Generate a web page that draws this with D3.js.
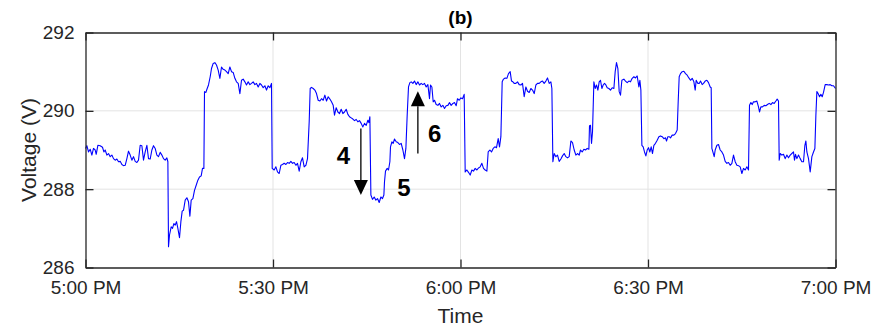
<!DOCTYPE html>
<html><head><meta charset="utf-8">
<script src="https://cdn.jsdelivr.net/npm/d3@7"></script>
<style>
html,body{margin:0;padding:0;background:#fff;}
svg{display:block;font-family:"Liberation Sans",Arial,Helvetica,sans-serif;}
</style></head>
<body><svg id="c" width="875" height="328"></svg>
<script>
// minutes after 5:00 PM
const timeMin = [
0,0.22,0.48,0.75,1.02,1.28,1.55,1.71,1.98,2.35,2.72,2.94,3.15,3.42,3.68,3.95,4.22,4.48,4.75,5.02,5.28,5.55,5.82,6.08,6.35,6.62,6.88,7.15,7.42,7.68,7.95,8.22,8.48,8.75,9.02,9.28,9.55,9.82,10.08,10.35,10.62,10.88,11.15,11.42,11.68,11.95,12.22,12.48,12.75,13.02,13.18,
13.28,13.44,13.71,13.92,14.14,14.35,14.56,14.78,15.04,15.26,15.47,15.68,15.95,16.22,16.48,16.70,16.91,17.18,17.44,17.71,17.98,18.24,18.51,18.72,18.94,
19.04,19.26,19.47,19.68,19.95,20.16,20.43,20.70,20.96,21.23,21.50,21.76,22.03,22.30,22.56,22.83,23.10,23.36,23.63,23.90,24.16,24.43,24.70,24.96,25.23,25.50,25.76,26.03,26.30,26.56,26.83,27.10,27.36,27.63,27.90,28.16,28.43,28.70,28.96,29.23,29.50,29.76,
29.87,30.19,30.46,30.72,30.99,31.26,31.52,31.79,32.06,32.32,32.59,32.86,33.12,33.39,33.66,33.92,34.19,34.46,34.72,34.99,35.26,35.52,
35.79,35.95,36.16,36.43,36.70,36.96,37.23,37.50,37.76,38.03,38.30,38.56,38.83,39.10,39.36,39.63,39.84,40.11,40.38,40.64,40.91,41.18,41.44,41.71,41.98,42.24,42.51,42.78,43.04,43.31,43.58,43.84,44.11,44.38,44.64,44.91,45.18,45.34,45.50,
45.66,45.92,46.19,46.46,46.72,46.99,47.26,47.52,47.74,47.84,48.00,48.27,48.48,48.70,48.80,49.02,49.23,49.44,49.71,49.98,50.24,50.51,50.78,51.04,51.26,
51.47,51.68,51.90,52.11,52.38,52.64,52.91,53.18,53.44,53.71,53.98,54.24,54.51,54.78,55.04,55.20,55.42,55.63,55.84,56.11,56.38,56.64,56.91,57.18,57.44,57.71,57.98,58.24,58.51,58.78,59.04,59.31,59.52,59.79,60.06,60.32,60.59,
60.75,61.02,61.28,61.55,61.82,62.08,62.35,62.62,62.88,63.15,63.42,63.68,63.95,64.22,64.43,64.70,64.96,65.23,65.50,65.76,66.03,66.24,66.46,
66.67,66.88,67.15,67.42,67.68,67.95,68.16,68.38,68.59,68.86,69.12,69.39,69.66,69.92,70.19,70.46,70.72,70.99,71.26,71.52,71.79,72.06,72.32,72.59,72.86,73.12,73.39,73.66,73.92,74.19,74.46,74.62,
74.78,74.99,75.26,75.52,75.79,76.06,76.32,76.59,76.86,77.12,77.39,77.66,77.92,78.19,78.46,78.72,78.99,79.20,79.47,79.74,80.00,80.27,80.54,80.64,80.80,80.96,81.12,
81.34,81.55,81.76,81.98,82.19,82.40,82.62,82.83,83.04,83.26,83.47,83.74,84.00,84.27,84.54,84.75,84.96,85.18,85.39,85.60,85.82,86.14,86.40,86.67,86.94,87.20,87.47,87.74,88.00,88.27,88.54,88.70,88.86,
89.02,89.23,89.44,89.66,89.87,90.08,90.30,90.51,90.72,90.94,91.20,91.47,91.74,92.00,92.27,92.54,92.80,92.96,93.18,93.39,93.60,93.87,94.14,94.40,94.67,
94.83,94.99,95.20,95.47,95.74,96.00,96.27,96.54,96.80,97.07,97.34,97.55,97.71,97.98,98.19,98.40,98.67,98.88,99.15,99.42,99.68,99.95,100.11,
100.22,100.38,100.59,100.75,101.02,101.28,101.55,101.82,102.08,102.35,102.62,102.88,103.15,103.42,103.68,103.95,104.22,104.48,104.75,105.02,105.28,105.55,105.82,106.08,
106.24,106.46,106.67,106.88,107.15,107.42,107.68,107.84,108.06,108.32,108.59,108.86,109.12,109.39,109.66,109.92,110.19,110.46,110.67,110.88,
110.99,111.15,111.42,111.68,111.95,112.22,112.48,112.75,113.02,113.28,113.44,113.60,113.82,114.08,114.35,114.62,114.88,115.10,115.26,115.42,115.68,115.95,116.22,116.48,116.70,
116.86,117.02,117.23,117.44,117.66,117.87,118.08,118.35,118.62,118.88,119.15,119.42,119.68,120.00
];
const voltage = [
289.04,289.11,288.95,289.02,288.87,289.04,289.00,288.89,289.12,289.11,289.07,288.95,289.00,288.87,288.91,288.83,288.87,288.78,288.74,288.77,288.70,288.71,288.63,288.60,288.61,288.78,288.97,288.87,288.74,288.83,288.71,288.68,288.74,289.12,289.11,288.74,288.95,289.12,288.78,288.77,289.00,289.11,289.04,288.87,288.83,288.94,288.87,288.78,288.74,288.80,288.70,
286.53,286.83,287.04,287.00,287.12,287.08,287.17,287.00,286.76,287.17,287.44,287.46,287.72,287.78,287.68,287.31,287.72,287.76,287.97,288.10,288.23,288.31,288.34,288.53,288.53,
290.49,290.47,290.57,290.66,290.87,291.08,291.21,291.23,291.17,291.04,290.83,291.12,291.06,291.04,291.00,290.95,291.12,291.00,290.98,290.83,290.74,290.70,290.44,290.78,290.81,290.74,290.66,290.74,290.67,290.70,290.74,290.67,290.70,290.61,290.70,290.66,290.59,290.64,290.53,290.64,290.59,290.70,
288.53,288.49,288.57,288.44,288.40,288.61,288.63,288.66,288.63,288.68,288.66,288.71,288.66,288.68,288.61,288.66,288.46,288.70,288.80,288.57,288.61,288.78,
289.72,290.57,290.60,290.57,290.53,290.44,290.27,290.25,290.31,290.27,290.40,290.25,290.36,290.30,290.23,290.14,289.89,290.08,289.97,289.93,290.04,289.93,289.97,290.04,289.91,289.85,289.82,289.79,289.75,289.78,289.72,289.75,289.68,289.59,289.68,289.63,289.76,289.70,289.85,
287.85,287.74,287.80,287.72,287.76,287.66,287.80,287.76,287.85,288.19,288.46,288.53,288.49,288.70,289.08,289.21,289.17,289.28,289.21,289.19,289.14,289.17,289.00,288.78,289.04,
289.89,290.61,290.72,290.74,290.70,290.76,290.67,290.74,290.66,290.70,290.67,290.70,290.61,290.67,290.31,290.66,290.61,290.23,290.27,290.16,290.14,290.19,290.10,290.14,290.06,290.13,290.14,290.21,290.14,290.19,290.21,290.13,290.31,290.27,290.33,290.31,290.42,
288.44,288.49,288.43,288.36,288.49,288.46,288.53,288.49,288.54,288.57,288.66,288.53,288.49,288.46,288.95,289.00,288.95,289.04,289.08,289.06,289.29,289.08,289.34,
290.74,290.81,290.84,290.83,290.95,291.00,290.76,290.74,290.70,290.70,290.74,290.67,290.66,290.70,290.36,290.61,290.50,290.47,290.57,290.53,290.44,290.66,290.70,290.70,290.74,290.76,290.70,290.76,290.84,290.70,290.74,290.57,
288.70,288.91,288.83,288.87,288.71,288.77,288.85,288.91,288.83,288.80,288.83,289.23,289.19,289.00,288.87,288.91,288.87,289.00,288.95,289.02,289.00,289.04,289.02,289.62,289.63,289.17,289.46,
290.74,290.57,290.66,290.53,290.74,290.78,290.57,290.66,290.70,290.66,290.59,290.57,290.53,290.59,290.57,291.00,291.23,291.08,290.49,290.40,290.78,290.81,290.76,290.72,290.76,290.74,290.83,290.87,290.84,290.89,290.61,290.78,290.53,
289.12,289.08,288.95,288.85,289.00,289.06,288.95,289.08,288.91,289.12,289.17,289.25,289.34,289.36,289.34,289.29,289.31,289.23,289.34,289.34,289.31,289.38,289.38,289.42,289.51,
290.23,290.87,290.95,291.00,291.01,290.95,290.91,290.84,290.78,290.83,290.74,290.53,290.78,290.70,290.70,290.76,290.67,290.70,290.76,290.78,290.72,290.61,290.59,
289.04,288.95,288.83,289.00,289.12,289.14,289.00,288.95,288.87,288.71,288.66,288.68,288.61,288.66,288.87,288.70,288.61,288.60,288.57,288.40,288.53,288.49,288.57,288.49,
290.14,290.21,290.16,290.23,290.23,290.25,290.10,289.97,290.10,290.10,290.14,290.13,290.16,290.19,290.16,290.21,290.19,290.25,290.30,290.25,
288.74,288.91,288.87,288.89,288.78,288.87,288.80,288.87,288.91,288.95,288.74,288.89,288.78,288.87,288.78,288.70,288.70,289.12,289.23,288.95,288.78,288.44,288.83,288.95,289.04,
289.89,290.49,290.44,290.36,290.42,290.36,290.47,290.67,290.67,290.66,290.67,290.64,290.64,290.57
];
const yTicks = [286, 288, 290, 292];
const xTickMinutes = [0, 30, 60, 90, 120];
const xTickLabels = ["5:00 PM", "5:30 PM", "6:00 PM", "6:30 PM", "7:00 PM"];
const titleText = "(b)";
const xLabel = "Time";
const yLabel = "Voltage (V)";
// annotation arrows: [time minutes, from V, to V]
const arrows = [
  {t: 44.06, v0: 289.55, v1: 287.85},
  {t: 53.18, v0: 288.91, v1: 290.50}
];
const marks = [
  {label: "4", t: 41.25, v: 288.85},
  {label: "5", t: 50.95, v: 288.04},
  {label: "6", t: 55.85, v: 289.42}
];

const W = 875, H = 328;
const m = {left: 85.5, right: 39.5, top: 32.5, bottom: 60.5};
const base = new Date(2020, 0, 1, 17, 0, 0);
const toDate = mins => new Date(base.getTime() + mins * 60000);
const data = timeMin.map((t, i) => ({d: toDate(t), v: voltage[i]}));

const svg = d3.select("#c");
const x = d3.scaleTime().domain([toDate(0), toDate(120)]).range([m.left, W - m.right]);
const y = d3.scaleLinear().domain([286, 292]).range([H - m.bottom, m.top]);
const axisCol = "#262626";

// grid
svg.append("g").selectAll("line").data(yTicks.slice(1, -1)).join("line")
  .attr("x1", m.left).attr("x2", W - m.right)
  .attr("y1", d => y(d)).attr("y2", d => y(d))
  .attr("stroke", "#e3e3e3").attr("stroke-width", 1);
svg.append("g").selectAll("line").data(xTickMinutes.slice(1, -1)).join("line")
  .attr("y1", m.top).attr("y2", H - m.bottom)
  .attr("x1", d => x(toDate(d))).attr("x2", d => x(toDate(d)))
  .attr("stroke", "#e3e3e3").attr("stroke-width", 1);

// line
svg.append("path").datum(data)
  .attr("fill", "none").attr("stroke", "#0000ff").attr("stroke-width", 1.1)
  .attr("stroke-linejoin", "round")
  .attr("d", d3.line().x(d => x(d.d)).y(d => y(d.v)));

// axes (ticks inward, box)
const tickFmt = (d, i) => xTickLabels[i];
const xb = svg.append("g").attr("transform", `translate(0,${H - m.bottom})`)
  .call(d3.axisBottom(x).tickValues(xTickMinutes.map(toDate)).tickSizeInner(-8).tickSizeOuter(0).tickPadding(13).tickFormat(tickFmt));
const xt = svg.append("g").attr("transform", `translate(0,${m.top})`)
  .call(d3.axisTop(x).tickValues(xTickMinutes.map(toDate)).tickSizeInner(-8).tickSizeOuter(0).tickFormat(""));
const yl = svg.append("g").attr("transform", `translate(${m.left},0)`)
  .call(d3.axisLeft(y).tickValues(yTicks).tickSizeInner(-8).tickSizeOuter(0).tickPadding(11).tickFormat(d3.format("d")));
const yr = svg.append("g").attr("transform", `translate(${W - m.right},0)`)
  .call(d3.axisRight(y).tickValues(yTicks).tickSizeInner(-8).tickSizeOuter(0).tickFormat(""));
[xb, xt, yl, yr].forEach(g => {
  g.select(".domain").attr("stroke", axisCol).attr("stroke-width", 1.3);
  g.selectAll(".tick line").attr("stroke", axisCol).attr("stroke-width", 1.3);
  g.selectAll("text").attr("fill", axisCol).style("font-size", "19px")
    .style("font-family", '"Liberation Sans",Arial,sans-serif');
});
xb.selectAll("text").attr("dy", "0.71em");

// titles
svg.append("text").attr("x", (m.left + W - m.right) / 2).attr("y", 24)
  .attr("text-anchor", "middle").attr("font-weight", "bold").attr("font-size", 19)
  .attr("fill", "#000").text(titleText);
svg.append("text").attr("x", (m.left + W - m.right) / 2).attr("y", 323)
  .attr("text-anchor", "middle").attr("font-size", 21).attr("fill", axisCol).text(xLabel);
svg.append("text").attr("transform", `translate(36,${(m.top + H - m.bottom) / 2}) rotate(-90)`)
  .attr("text-anchor", "middle").attr("font-size", 21).attr("fill", axisCol).text(yLabel);

// annotations
const ah = svg.append("g");
arrows.forEach(a => {
  const dir = a.v1 > a.v0 ? -1 : 1; // screen direction of tip
  const xa = x(toDate(a.t)), y0 = y(a.v0), y1 = y(a.v1);
  const headLen = 15, headW = 7;
  ah.append("line").attr("x1", xa).attr("x2", xa).attr("y1", y0).attr("y2", y1 - dir * headLen)
    .attr("stroke", "#000").attr("stroke-width", 1.3);
  ah.append("path").attr("d", `M${xa},${y1} L${xa - headW},${y1 - dir * headLen} L${xa + headW},${y1 - dir * headLen} Z`)
    .attr("fill", "#000");
});
marks.forEach(k => {
  ah.append("text").attr("x", x(toDate(k.t))).attr("y", y(k.v))
    .attr("text-anchor", "middle").attr("dominant-baseline", "central")
    .attr("font-weight", "bold").attr("font-size", 24).attr("fill", "#000").text(k.label);
});
</script></body></html>
